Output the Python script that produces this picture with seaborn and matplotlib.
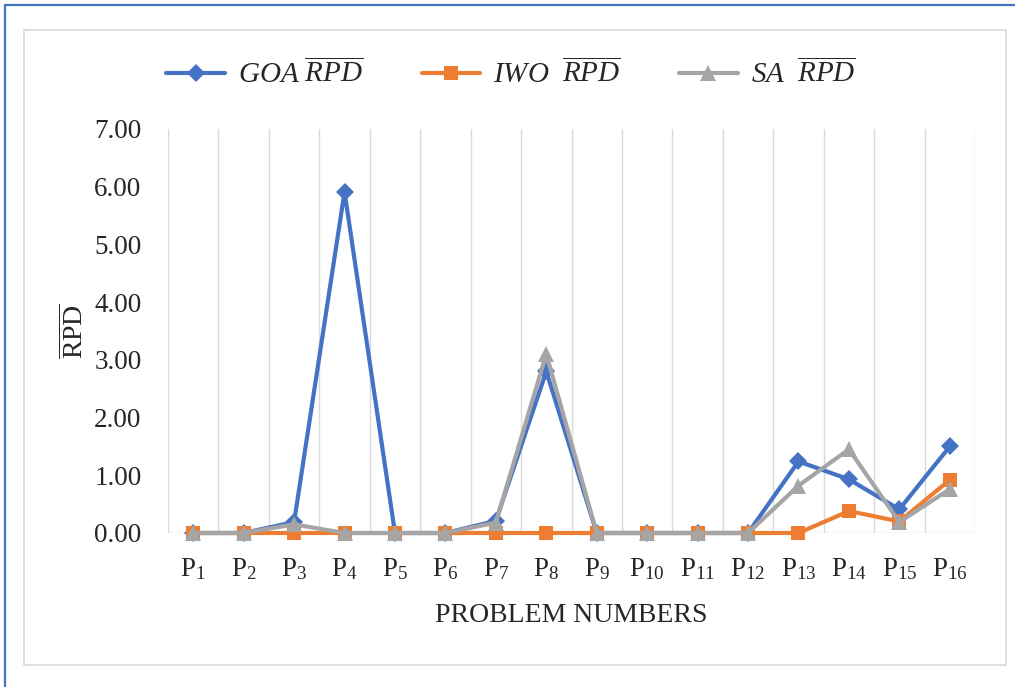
import numpy as np
import pandas as pd
import matplotlib
matplotlib.use("Agg")
import matplotlib.pyplot as plt
import seaborn as sns
from matplotlib.lines import Line2D

# values
problems = [f"P{i}" for i in range(1, 17)]
goa_rpd = [0.0, 0.0, 0.19, 5.91, 0.0, 0.0, 0.21, 2.80, 0.0, 0.0, 0.0, 0.0, 1.24, 0.93, 0.41, 1.50]
iwo_rpd = [0.0, 0.0, 0.0, 0.0, 0.0, 0.0, 0.0, 0.0, 0.0, 0.0, 0.0, 0.0, 0.0, 0.38, 0.20, 0.92]
sa_rpd = [0.0, 0.0, 0.15, 0.0, 0.0, 0.0, 0.18, 3.10, 0.0, 0.0, 0.0, 0.0, 0.82, 1.45, 0.19, 0.76]
tick_labels = [rf"P$_{{{i}}}$" for i in range(1, 17)]

sns.set_style("white")
plt.rcParams["font.family"] = ["Liberation Serif", "DejaVu Serif"]
plt.rcParams["mathtext.fontset"] = "custom"
plt.rcParams["mathtext.rm"] = "Liberation Serif"
plt.rcParams["mathtext.it"] = "Liberation Serif:italic"
plt.rcParams["mathtext.bf"] = "Liberation Serif:bold"

pos = np.arange(len(problems))
df = pd.concat([
    pd.DataFrame({"pos": pos, "rpd": goa_rpd, "alg": "GOA"}),
    pd.DataFrame({"pos": pos, "rpd": iwo_rpd, "alg": "IWO"}),
    pd.DataFrame({"pos": pos, "rpd": sa_rpd, "alg": "SA"}),
])

colors = {"GOA": "#4472C4", "IWO": "#ED7D31", "SA": "#A5A5A5"}
markers = {"GOA": "D", "IWO": "s", "SA": "^"}
msize = {"GOA": 9, "IWO": 10, "SA": 12}

fig = plt.figure(figsize=(10.15, 6.87), dpi=100)
ax = fig.add_axes([168 / 1015, 1 - 533 / 687, (975 - 168) / 1015, (533 - 129) / 687])

for alg in ["GOA", "IWO", "SA"]:
    sns.lineplot(data=df[df["alg"] == alg], x="pos", y="rpd", ax=ax,
                 color=colors[alg], marker=markers[alg], markersize=msize[alg],
                 markeredgewidth=0, linewidth=3, clip_on=False, legend=False)

ax.set_xlim(-0.5, len(problems) - 0.5)
ax.set_ylim(0, 7)
ax.set_yticks(np.arange(0, 8, 1))
ax.set_yticklabels([f"{v:.2f}" for v in np.arange(0, 8, 1)], fontsize=19.5)
ax.set_xticks(pos)
ax.set_xticklabels(tick_labels, fontsize=19.5)
ax.tick_params(axis="both", length=0)
ax.tick_params(axis="y", pad=19)
ax.tick_params(axis="x", pad=17)

# vertical gridlines between categories
for b in np.arange(-0.5, len(problems) + 0.5, 1):
    ax.axvline(b, color="#D9D9D9", linewidth=1, zorder=0)
for s in ax.spines.values():
    s.set_visible(False)
ax.axhline(0, color="#D9D9D9", linewidth=1, zorder=0)

ax.set_xlabel("PROBLEM NUMBERS", fontsize=20, labelpad=15)
ax.set_ylabel(r"$\overline{\mathrm{RPD}}$", fontsize=20, labelpad=4)

handles = [Line2D([], [], color=colors[a], marker=markers[a], markersize=msize[a],
                  markeredgewidth=0, linewidth=3) for a in ["GOA", "IWO", "SA"]]
labels = [r"$\mathit{GOA}\ \overline{\mathit{RPD}}$",
          r"$\mathit{IWO}\ \ \overline{\mathit{RPD}}$",
          r"$\mathit{SA}\ \ \overline{\mathit{RPD}}$"]
fig.legend(handles, labels, loc="center", bbox_to_anchor=(511 / 1015, 1 - 74 / 687),
           ncol=3, frameon=False, fontsize=21, handlelength=2.0,
           handletextpad=0.45, columnspacing=2.0)

# chart frame and outer border
fig.patches.append(plt.Rectangle((24 / 1015, 1 - 665 / 687), (1006 - 24) / 1015, (665 - 30) / 687,
                                 transform=fig.transFigure, fill=False, edgecolor="#D9D9D9",
                                 linewidth=1.2))
fig.add_artist(Line2D([5 / 1015, 5 / 1015], [0, 1 - 5 / 687], transform=fig.transFigure,
                      color="#4472C4", linewidth=1.6))
fig.add_artist(Line2D([5 / 1015, 1], [1 - 5 / 687, 1 - 5 / 687], transform=fig.transFigure,
                      color="#4472C4", linewidth=1.6))

fig.savefig("out.png", dpi=100)
